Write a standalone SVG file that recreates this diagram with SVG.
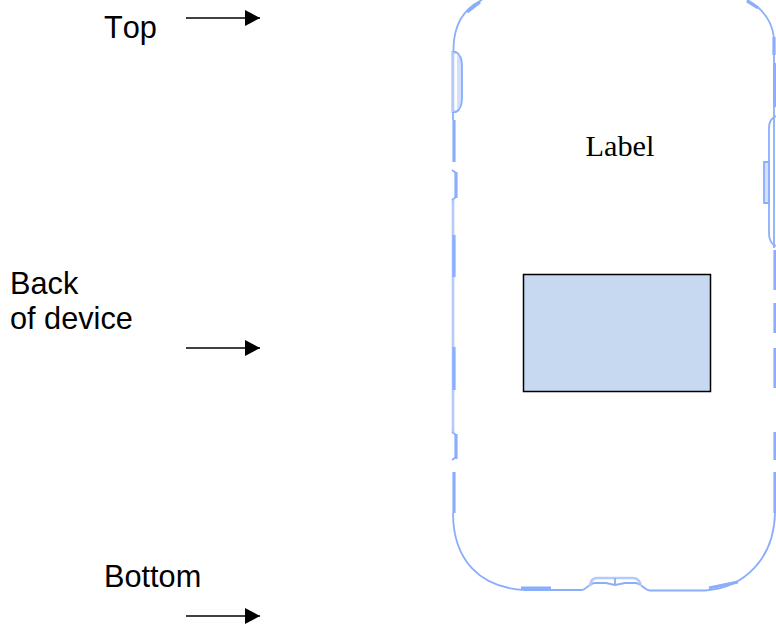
<svg xmlns="http://www.w3.org/2000/svg" width="776" height="628" viewBox="0 0 776 628">
<style>
.t{font-family:"Liberation Sans",Arial,sans-serif;font-size:30.7px;fill:#000;font-kerning:none}
.a{stroke:#000;stroke-width:1.7;fill:none;marker-end:url(#h)}
.o{fill:none;stroke:#8aaefc;stroke-width:1.8}
.l{fill:none;stroke:#b4cafd;stroke-width:2.6}
.k{fill:none;stroke:#8aaefc;stroke-width:3.2}
.p{fill:#d3e0fe;stroke:#8aaefc;stroke-width:1.8}
</style>
<defs><marker id="h" markerUnits="userSpaceOnUse" markerWidth="15" markerHeight="16" refX="15" refY="8" orient="auto"><path d="M0 0L15 8L0 16Z" fill="#000"/></marker></defs>
<rect width="776" height="628" fill="#fff"/>
<g id="connectors">
<path class="a" d="M186 18H260"/>
<path class="a" d="M186 348H260"/>
<path class="a" d="M186 616H260"/>
</g>
<g id="top-label"><text class="t" x="104" y="38">Top</text></g>
<g id="back-label"><text class="t" x="10" y="294">Back</text><text class="t" x="10" y="329">of device</text></g>
<g id="bottom-label"><text class="t" x="104" y="587">Bottom</text></g>
<g id="device">
<path class="l" d="M453 200V432"/>
<path class="o" d="M482 0C465 8 454 24 453.500 48V52M453 112V120"/>
<path class="o" d="M453 513C453 560 480 588 525 590H582C586 590 588 584 594 583H606L615 585L625 583H636C642 584 644 590 650 590.500H705C745 588 774 558 775 513"/>
<path class="l" d="M590 586C591 581 592 578 597 578H633C638 578 640 581 641 586" stroke-width="2"/>
<path class="o" d="M615 578V585"/>
<path class="o" d="M747 0C762 8 772 20 774 38V110V248"/>
<path class="o" d="M776 116C771 118 769 122 769 128V234C769 240 772 245 776 246"/>
<path class="p" d="M452.500 52H456C460 54 462 60 462 66V98C462 105 460 110 456 112H452.500Z"/>
<path d="M453.500 54H457V110H453.500Z" fill="#fff"/>
<path class="l" d="M453 52V112" stroke-width="1.500"/>
<path class="p" d="M769 162H764V203H769Z"/>
<path class="k" d="M454 120V162M454 235V277M454 347V390M454 472V513M774 37V55M775 63V107M775 250V290M775 303V333M775 348V388M775 432V460M775 472V513"/>
<path class="k" d="M456 172V198M456 434V459" stroke-width="2.400"/>
<path class="o" d="M452 170L456 173M456 197L452 200M452 432L456 435M456 457L452 460"/>
<path class="k" d="M467 12L480 2M747 1L758 8M521 588H551M709 588L738 582" stroke-width="2.600"/>
</g>
<g id="label-rect"><rect x="523.500" y="274.500" width="187" height="117" fill="#c6d9f1" stroke="#000" stroke-width="1.500"/></g>
<g id="label"><text x="585.500" y="156" font-family="'Liberation Serif','Times New Roman',serif" font-size="30.300" fill="#000">Label</text></g>
</svg>
